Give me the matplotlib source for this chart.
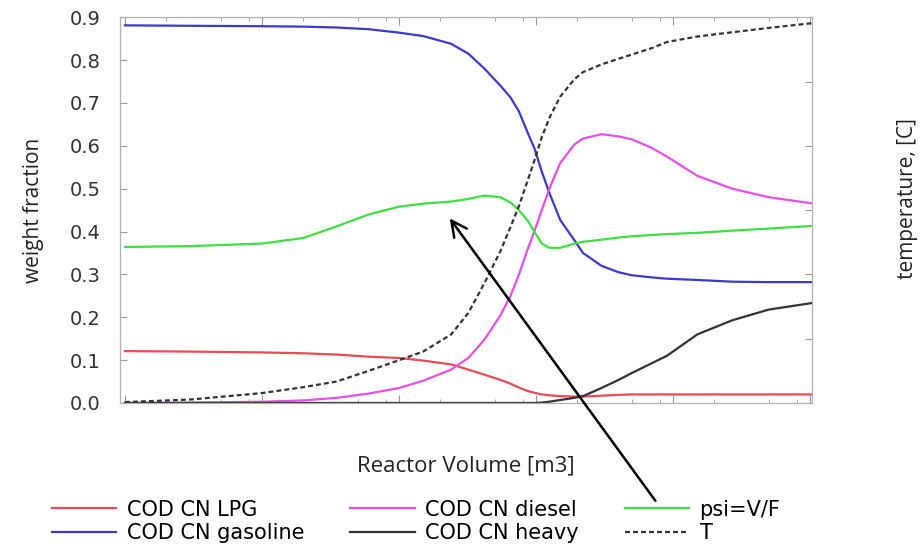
import numpy as np
import matplotlib.pyplot as plt
from matplotlib.ticker import LogLocator, NullFormatter, FixedLocator

# reactor volume [m3] (log axis)
volume = [1e-4, 3e-4, 1e-3, 2e-3, 3.5e-3, 6e-3, 0.01, 0.015, 0.024, 0.032,
          0.042, 0.055, 0.065, 0.075, 0.087, 0.097, 0.11, 0.125, 0.15, 0.19,
          0.22, 0.3, 0.4, 0.5, 0.7, 0.9, 1.5, 2.7, 5.0, 10.2]

lpg = [0.121, 0.120, 0.118, 0.116, 0.113, 0.108, 0.105, 0.099, 0.090, 0.078,
       0.066, 0.054, 0.045, 0.036, 0.028, 0.024, 0.020, 0.018, 0.016, 0.015,
       0.015, 0.017, 0.019, 0.020, 0.020, 0.020, 0.020, 0.020, 0.020, 0.020]
gasoline = [0.881, 0.880, 0.879, 0.878, 0.876, 0.872, 0.864, 0.856, 0.838, 0.815,
            0.780, 0.740, 0.713, 0.680, 0.630, 0.595, 0.540, 0.490, 0.427, 0.380,
            0.350, 0.320, 0.305, 0.298, 0.293, 0.290, 0.287, 0.283, 0.282, 0.282]
diesel = [0.000, 0.001, 0.003, 0.006, 0.012, 0.022, 0.035, 0.052, 0.078, 0.105,
          0.148, 0.205, 0.250, 0.300, 0.360, 0.400, 0.450, 0.500, 0.560, 0.603,
          0.617, 0.627, 0.622, 0.615, 0.595, 0.575, 0.530, 0.500, 0.480, 0.466]
heavy = [0.0, 0.0, 0.0, 0.0, 0.0, 0.0, 0.0, 0.0, 0.0, 0.0,
         0.0, 0.0, 0.0, 0.0, 0.0, 0.0, 0.001, 0.003, 0.007, 0.012,
         0.016, 0.035, 0.054, 0.070, 0.093, 0.110, 0.160, 0.193, 0.218, 0.233]
psi = [0.364, 0.366, 0.372, 0.385, 0.412, 0.440, 0.458, 0.465, 0.470, 0.476,
       0.484, 0.480, 0.468, 0.450, 0.425, 0.400, 0.372, 0.362, 0.362, 0.372,
       0.376, 0.381, 0.386, 0.389, 0.392, 0.394, 0.397, 0.402, 0.407, 0.413]
# temperature [C]
temp = [350.7, 352.7, 357.7, 362.3, 366.7, 375.0, 383.3, 390.0, 403.3, 420.0,
        443.3, 468.3, 486.7, 503.3, 523.3, 538.3, 556.7, 571.7, 588.3, 601.7,
        607.3, 613.3, 617.7, 621.0, 626.0, 630.7, 635.0, 638.3, 641.7, 645.3]

y_ticks = [0.0, 0.1, 0.2, 0.3, 0.4, 0.5, 0.6, 0.7, 0.8, 0.9]
t_ticks = [350, 400, 450, 500, 550, 600, 650]

fig = plt.figure(figsize=(9.23, 5.48), dpi=100)
ax = fig.add_axes([0.130, 0.2646, 0.750, 0.704])
ax2 = ax.twinx()

h1, = ax.plot(volume, lpg, color="#ec4a55", lw=1.6, label="COD CN LPG")
h2, = ax.plot(volume, gasoline, color="#3a3acc", lw=1.6, label="COD CN gasoline")
h3, = ax.plot(volume, diesel, color="#e84ee8", lw=1.6, label="COD CN diesel")
h4, = ax.plot(volume, heavy, color="#333333", lw=1.6, label="COD CN heavy")
h5, = ax.plot(volume, psi, color="#3ee03e", lw=1.6, label="psi=V/F")
h6, = ax2.plot(volume, temp, color="#333333", lw=1.6, ls=(0, (2.2, 1.4)), label="T")

ax.set_xscale("log")
ax.set_xlim(9.2e-5, 10.35)
ax.set_ylim(0, 0.9)
ax2.set_ylim(350, 650)

ax.xaxis.set_major_locator(LogLocator(base=10))
ax.xaxis.set_minor_locator(LogLocator(base=10, subs=(2, 5, 8)))
ax.xaxis.set_major_formatter(NullFormatter())
ax.xaxis.set_minor_formatter(NullFormatter())
ax.yaxis.set_major_locator(FixedLocator(y_ticks))
ax.set_yticklabels([f"{v:.1f}" for v in y_ticks])
ax2.yaxis.set_major_locator(FixedLocator(t_ticks))
ax2.set_yticklabels([])

ax.tick_params(axis="both", which="both", direction="in", color="#999999",
               top=True, right=False)
ax.tick_params(axis="x", which="major", length=6)
ax.tick_params(axis="x", which="minor", length=3)
ax.tick_params(axis="y", length=5, labelsize=14, labelcolor="#333333", pad=14)
ax2.tick_params(axis="y", direction="in", color="#999999", length=5)
for a in (ax, ax2):
    for s in a.spines.values():
        s.set_color("#b0b0b0")

ax.set_xlabel("Reactor Volume [m3]", fontsize=16, family="Open Sans", color="#222222")
ax.xaxis.set_label_coords(0.5, -0.135)
ax.set_ylabel("weight fraction", fontsize=15, family="Open Sans", color="#222222")
ax.yaxis.set_label_coords(-0.11, 0.5)
ax2.set_ylabel("temperature, [C]", fontsize=15, family="Open Sans", color="#222222")
ax2.yaxis.set_label_coords(1.123, 0.53)

fig.legend([h1, h2, h3, h4, h5, h6],
           [h.get_label() for h in (h1, h2, h3, h4, h5, h6)],
           loc="upper left", bbox_to_anchor=(33 / 923, 1 - 481 / 548),
           ncol=3, frameon=False, fontsize=15, handlelength=3.1,
           handletextpad=0.5, columnspacing=2.2, labelspacing=0.15)

# arrow from the psi legend entry to the psi curve
ax2.annotate("", xy=(0.0228, 0.436), xycoords=ax.transData,
             xytext=(657, 548 - 503), textcoords="figure pixels",
             arrowprops=dict(arrowstyle="->", lw=1.8, color="black",
                             mutation_scale=28),
             annotation_clip=False)

fig.savefig("out.png", dpi=100)
